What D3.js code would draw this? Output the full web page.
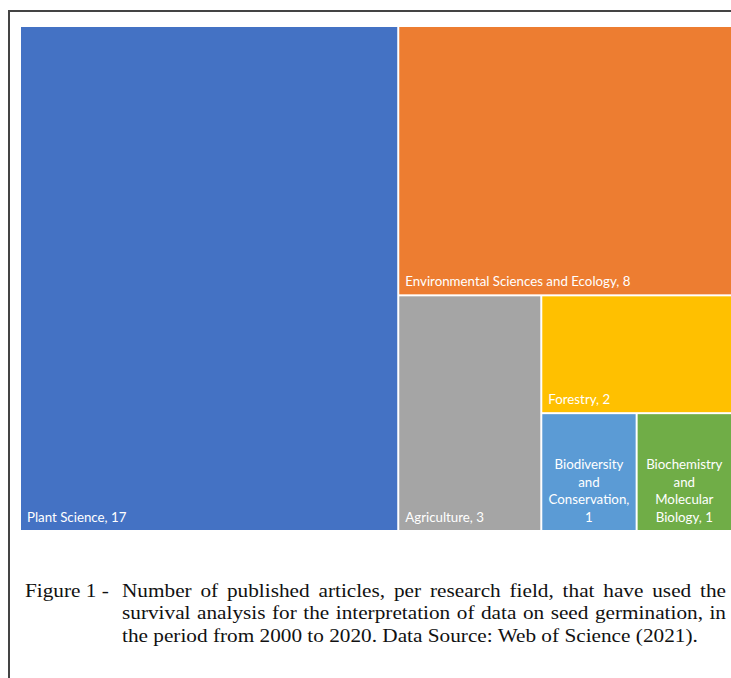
<!DOCTYPE html>
<html>
<head>
<meta charset="utf-8">
<script src="https://cdn.jsdelivr.net/npm/d3@7"></script>
<style>
  body { margin: 0; background: #fff; }
  svg { display: block; }
</style>
</head>
<body>
<svg id="chart"></svg>
<script>
// research fields and number of articles
var fields = ["Plant Science", "Environmental Sciences and Ecology", "Agriculture", "Forestry",
              "Biodiversity and Conservation", "Biochemistry and Molecular Biology"];
var counts = [17, 8, 3, 2, 1, 1];
var colors = ["#4472C4", "#ED7D31", "#A5A5A5", "#FFC000", "#5B9BD5", "#70AD47"];
// wrapped labels for the narrow tiles
var labelLines = [
    ["Plant Science, 17"],
    ["Environmental Sciences and Ecology, 8"],
    ["Agriculture, 3"],
    ["Forestry, 2"],
    ["Biodiversity", "and", "Conservation,", "1"],
    ["Biochemistry", "and", "Molecular", "Biology, 1"]
];
var captionHead = "Figure 1 - ";
var captionLines = [
    "Number of published articles, per research field, that have used the",
    "survival analysis for the interpretation of data on seed germination, in",
    "the period from 2000 to 2020. Data Source: Web of Science (2021)."
];

var screen = {width: 731, height: 678};
var svg = d3.select("#chart")
    .attr("width", screen.width)
    .attr("height", screen.height);

// figure frame
svg.append("rect")
    .attr("x", 9).attr("y", 11)
    .attr("width", 740).attr("height", 700)
    .attr("fill", "none")
    .attr("stroke", "#444")
    .attr("stroke-width", 2);

var box = {x: 21, y: 27, w: 710, h: 503};

var root = d3.hierarchy({children: fields.map(function(f, i){
        return {name: f, value: counts[i], idx: i};
    })})
    .sum(function(d){ return d.value || 0; })
    .sort(function(a, b){ return b.value - a.value; });

d3.treemap()
    .tile(d3.treemapSquarify.ratio(1))
    .size([box.w, box.h])
    .paddingInner(2)
    .round(false)(root);

var tiles = svg.append("g")
    .attr("transform", "translate(" + box.x + "," + box.y + ")")
    .selectAll("g")
    .data(root.leaves())
    .enter()
    .append("g")
    .attr("transform", function(d){ return "translate(" + d.x0 + "," + d.y0 + ")"; });

tiles.append("rect")
    .attr("width", function(d){ return d.x1 - d.x0; })
    .attr("height", function(d){ return d.y1 - d.y0; })
    .attr("fill", function(d){ return colors[d.data.idx]; });

var lineH = 17.5;
tiles.each(function(d){
    var g = d3.select(this);
    var lines = labelLines[d.data.idx];
    var w = d.x1 - d.x0, h = d.y1 - d.y0;
    var centered = lines.length > 1;
    var t = g.append("text")
        .attr("fill", "#fff")
        .attr("font-family", "Lato, 'Open Sans', sans-serif")
        .attr("font-size", 13.3)
        .attr("text-anchor", centered ? "middle" : "start");
    lines.forEach(function(s, k){
        t.append("tspan")
            .attr("x", centered ? w / 2 : 6)
            .attr("y", h - 8 - (lines.length - 1 - k) * lineH)
            .text(s);
    });
});

// caption, justified like the source (the source is slightly stretched sideways)
var cap = svg.append("g")
    .attr("font-family", "'Liberation Serif', 'Times New Roman', serif")
    .attr("font-size", 19)
    .attr("fill", "#111");

var probe = cap.append("text").text(captionLines[2]);
var sx = 576 / probe.node().getComputedTextLength();
probe.remove();
cap.attr("transform", "scale(" + sx + ",1)");

cap.append("text")
    .attr("x", 25 / sx).attr("y", 597)
    .text(captionHead);

var left = 122 / sx, right = 726 / sx;
captionLines.forEach(function(s, i){
    var t = cap.append("text")
        .attr("x", left)
        .attr("y", 597 + i * 22.5)
        .text(s);
    if (i < captionLines.length - 1) {
        var natural = t.node().getComputedTextLength();
        var spaces = s.split(" ").length - 1;
        t.attr("word-spacing", (right - left - natural) / spaces);
    }
});
</script>
</body>
</html>
